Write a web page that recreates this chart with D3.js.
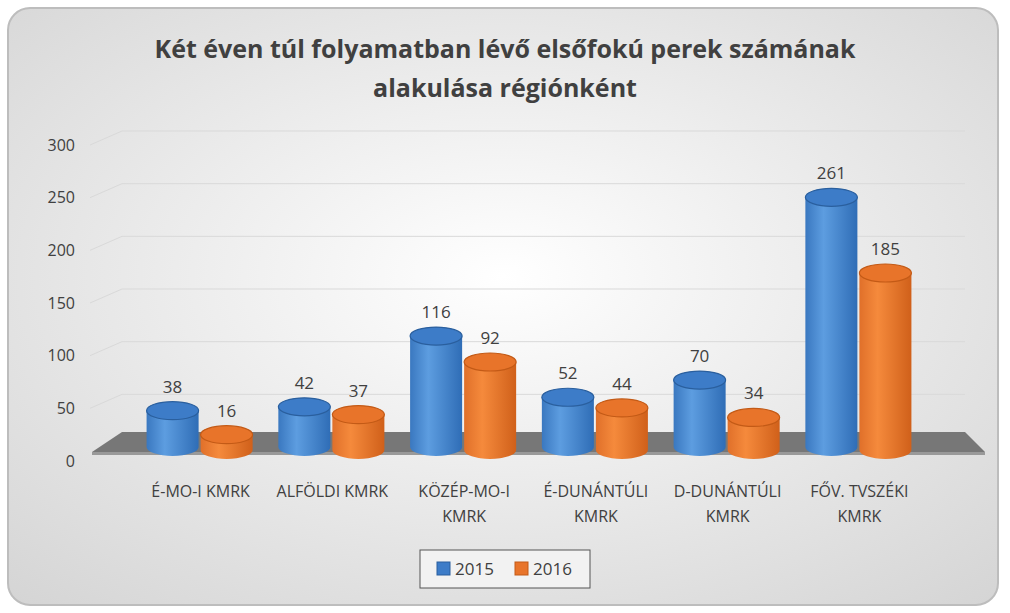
<!DOCTYPE html>
<html><head><meta charset="utf-8">
<script src="https://cdn.jsdelivr.net/npm/d3@7"></script>
<style>body{margin:0;background:#fff}svg{display:block;font-family:"Open Sans",Calibri,sans-serif}</style>
</head><body><svg id="chart" width="1010" height="613"></svg>
<script>
const categories = [["É-MO-I KMRK"], ["ALFÖLDI KMRK"], ["KÖZÉP-MO-I", "KMRK"], ["É-DUNÁNTÚLI", "KMRK"], ["D-DUNÁNTÚLI", "KMRK"], ["FŐV. TVSZÉKI", "KMRK"]];
const years = ["2015", "2016"];
const values2015 = [38, 42, 116, 52, 70, 261];
const values2016 = [16, 37, 92, 44, 34, 185];
const yTicks = [0, 50, 100, 150, 200, 250, 300];

const svg = d3.select("#chart");
const defs = svg.append("defs");

// background card
const bg = defs.append("radialGradient").attr("id", "bg").attr("cx", "50%").attr("cy", "45%").attr("r", "75%");
bg.append("stop").attr("offset", "0%").attr("stop-color", "#ffffff");
bg.append("stop").attr("offset", "100%").attr("stop-color", "#d4d4d4");
svg.append("rect").attr("x", 8).attr("y", 8).attr("width", 990).attr("height", 597).attr("rx", 22)
    .attr("fill", "url(#bg)").attr("stroke", "#bdbdbd").attr("stroke-width", 2);

function cylGrad(id, light, mid, dark) {
    const g = defs.append("linearGradient").attr("id", id);
    g.append("stop").attr("offset", "0%").attr("stop-color", dark);
    g.append("stop").attr("offset", "35%").attr("stop-color", light);
    g.append("stop").attr("offset", "100%").attr("stop-color", mid);
}
cylGrad("blue", "#5d9de0", "#2f6db6", "#3a78c0");
cylGrad("orange", "#f58a3c", "#d0601a", "#e0702a");
const topColor = { blue: "#3d7cc8", orange: "#e8742a" };
const edgeColor = { blue: "#2a5f9e", orange: "#c35a16" };

// title
svg.append("text").attr("x", 505).attr("y", 58).attr("text-anchor", "middle")
    .attr("font-size", 25).attr("font-weight", "bold").attr("fill", "#404040")
    .text("Két éven túl folyamatban lévő elsőfokú perek számának");
svg.append("text").attr("x", 505).attr("y", 97).attr("text-anchor", "middle")
    .attr("font-size", 25).attr("font-weight", "bold").attr("fill", "#404040")
    .text("alakulása régiónként");

// axis scale and grid
const y = d3.scaleLinear().domain([0, 300]).range([461, 145]);
const gridG = svg.append("g");
yTicks.forEach(t => {
    if (t === 0) return;
    gridG.append("polyline")
        .attr("points", `90,${y(t)} 122,${y(t) - 14} 965,${y(t) - 14}`)
        .attr("fill", "none").attr("stroke", "#d9d9d9").attr("stroke-width", 1);
});
svg.append("g").attr("transform", "translate(75,0)")
    .call(d3.axisLeft(y).tickValues(yTicks).tickSize(0).tickPadding(0))
    .call(g => g.select(".domain").remove())
    .selectAll("text").attr("font-size", 16).attr("fill", "#404040").attr("font-family", "Open Sans");

// floor
svg.append("polygon").attr("points", "122,432 965,432 985,452 92,452").attr("fill", "#777");
svg.append("polygon").attr("points", "92,452 985,452 985,455 92,455").attr("fill", "#999");

// bars
const x = d3.scaleBand().domain(d3.range(categories.length)).range([140, 920]).paddingInner(0.18).paddingOuter(0.05);
const barY = d3.scaleLinear().domain([0, 300]).range([447, 160]);
const bw = x.bandwidth() / 2;
const ry = 9;
const barsG = svg.append("g");
[values2015, values2016].forEach((vals, si) => {
    const c = si === 0 ? "blue" : "orange";
    vals.forEach((v, i) => {
        const x0 = x(i) + si * (bw - 4) + (si ? 4 : 0);
        const w = bw - 2;
        const cx = x0 + w / 2;
        const base = barY(0) + si * 3;
        const top = base - (barY(0) - barY(v));
        barsG.append("path")
            .attr("d", `M${x0},${top} L${x0},${base} A${w / 2},${ry} 0 0 0 ${x0 + w},${base} L${x0 + w},${top} Z`)
            .attr("fill", `url(#${c})`);
        barsG.append("ellipse").attr("cx", cx).attr("cy", top).attr("rx", w / 2).attr("ry", ry)
            .attr("fill", topColor[c]).attr("stroke", edgeColor[c]).attr("stroke-width", 1.2);
        barsG.append("text").attr("x", cx).attr("y", top - 18).attr("text-anchor", "middle")
            .attr("font-size", 17).attr("fill", "#404040").text(v);
    });
});

// category labels
categories.forEach((lines, i) => {
    const cx = x(i) + x.bandwidth() / 2;
    lines.forEach((l, k) => {
        svg.append("text").attr("x", cx).attr("y", 497 + k * 25).attr("text-anchor", "middle")
            .attr("font-size", 16).attr("fill", "#404040").text(l);
    });
});

// legend
svg.append("rect").attr("x", 420).attr("y", 550).attr("width", 170).attr("height", 38)
    .attr("fill", "#f2f2f2").attr("stroke", "#555").attr("stroke-width", 1);
years.forEach((yr, i) => {
    const lx = 437 + i * 78;
    svg.append("rect").attr("x", lx).attr("y", 562).attr("width", 13).attr("height", 13)
        .attr("fill", i ? "#e8742a" : "#3d7cc8").attr("stroke", i ? "#c35a16" : "#2a5f9e");
    svg.append("text").attr("x", lx + 18).attr("y", 575).attr("font-size", 17).attr("fill", "#404040").text(yr);
});
</script></body></html>
